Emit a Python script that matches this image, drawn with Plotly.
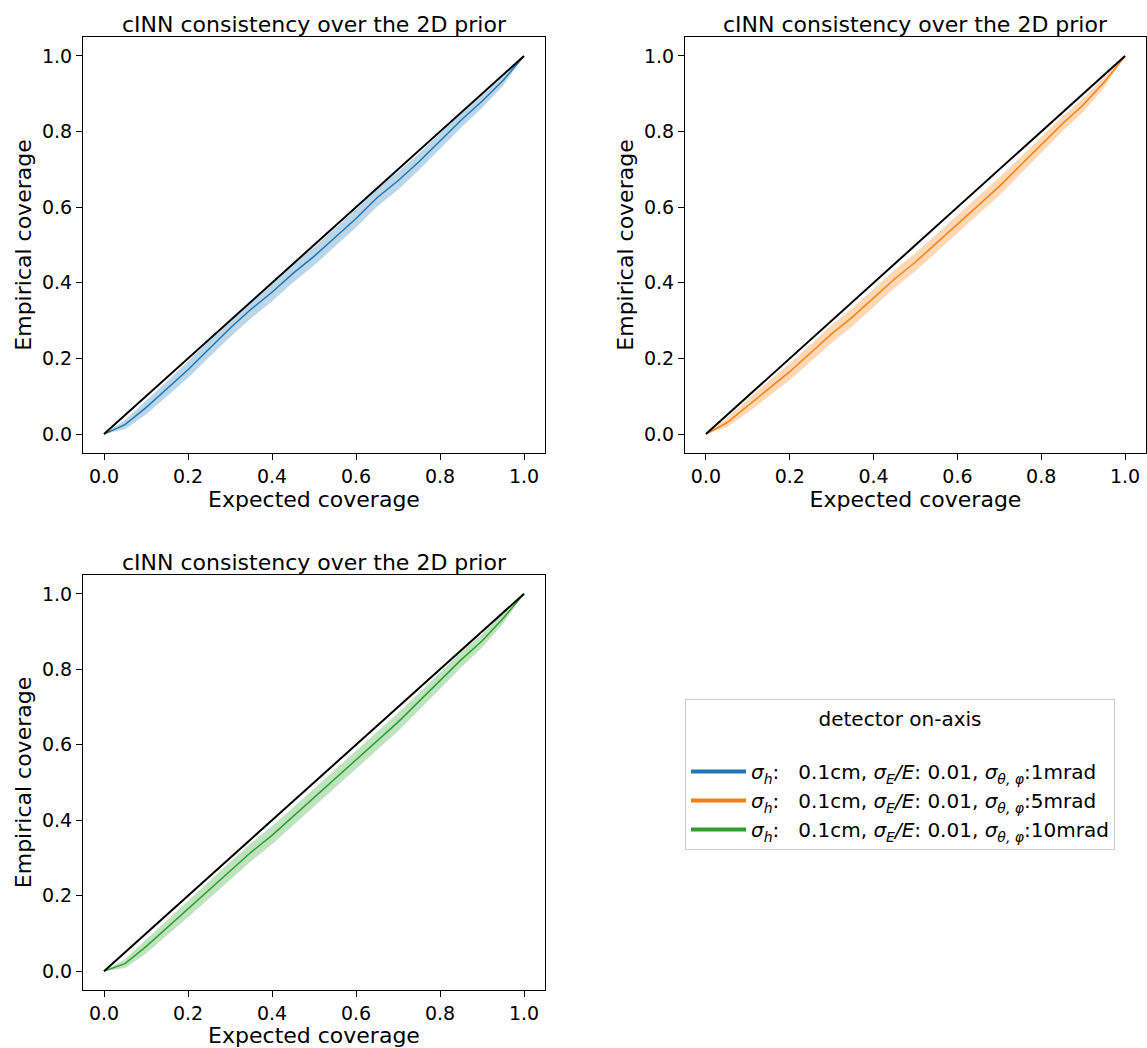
import plotly.graph_objects as go

# expected coverage grid
x = [0.0, 0.05, 0.1, 0.15, 0.2, 0.25, 0.3, 0.35, 0.4, 0.45, 0.5,
     0.55, 0.6, 0.65, 0.7, 0.75, 0.8, 0.85, 0.9, 0.95, 1.0]

# empirical coverage medians
blue = [0.0, 0.025, 0.07, 0.12, 0.17, 0.225, 0.28, 0.33, 0.375, 0.425, 0.47,
        0.52, 0.57, 0.625, 0.67, 0.72, 0.775, 0.83, 0.88, 0.935, 1.0]
orange = [0.0, 0.03, 0.075, 0.12, 0.165, 0.215, 0.265, 0.31, 0.36, 0.41, 0.455,
          0.505, 0.555, 0.605, 0.655, 0.71, 0.765, 0.82, 0.87, 0.93, 1.0]
green = [0.0, 0.02, 0.065, 0.115, 0.165, 0.215, 0.265, 0.315, 0.36, 0.41, 0.46,
         0.51, 0.56, 0.61, 0.66, 0.715, 0.77, 0.825, 0.875, 0.935, 1.0]
# band half-widths
half = [0.0, 0.012, 0.018, 0.02, 0.022, 0.022, 0.024, 0.024, 0.024, 0.024, 0.024,
        0.024, 0.024, 0.024, 0.024, 0.022, 0.022, 0.02, 0.018, 0.014, 0.0]

series = [
    (blue, '#1f77b4', 'rgba(31,119,180,0.3)', '1mrad', 'x', 'y'),
    (orange, '#ff7f0e', 'rgba(255,127,14,0.3)', '5mrad', 'x2', 'y2'),
    (green, '#2ca02c', 'rgba(44,160,44,0.3)', '10mrad', 'x3', 'y3'),
]

fig = go.Figure()
for vals, col, fill, lab, xa, ya in series:
    lo = [v - h for v, h in zip(vals, half)]
    hi = [v + h for v, h in zip(vals, half)]
    fig.add_trace(go.Scatter(x=x + x[::-1], y=hi + lo[::-1], fill='toself',
                             fillcolor=fill, line=dict(width=0), showlegend=False,
                             hoverinfo='skip', xaxis=xa, yaxis=ya))
    fig.add_trace(go.Scatter(x=x, y=vals, mode='lines', line=dict(color=col, width=1.5),
                             showlegend=False, xaxis=xa, yaxis=ya))
    fig.add_trace(go.Scatter(x=[0, 1], y=[0, 1], mode='lines', line=dict(color='black', width=2),
                             showlegend=False, xaxis=xa, yaxis=ya))
    # legend entry
    fig.add_trace(go.Scatter(x=[None], y=[None], mode='lines', line=dict(color=col, width=4),
                             name=('<i>σ<sub>h</sub></i>:   0.1cm, <i>σ<sub>E</sub>/E</i>: 0.01, '
                                   '<i>σ<sub>θ, φ</sub></i>:' + lab),
                             xaxis=xa, yaxis=ya))

W, H = 1147, 1048
dom_x = {1: [83 / W, 545 / W], 2: [685 / W, 1146 / W], 3: [83 / W, 545 / W]}
dom_y = {1: [1 - 453 / H, 1 - 37 / H], 2: [1 - 453 / H, 1 - 37 / H], 3: [1 - 990 / H, 1 - 575 / H]}
ticks = [0, 0.2, 0.4, 0.6, 0.8, 1.0]
axstyle = dict(range=[-0.05, 1.05], tickvals=ticks, ticktext=['%.1f' % t for t in ticks],
               showgrid=False, zeroline=False, showline=True, linecolor='black', linewidth=1,
               mirror=True, ticks='outside', ticklen=6, tickcolor='black',
               tickfont=dict(size=19, color='black'))
layout = {}
for i in (1, 2, 3):
    s = '' if i == 1 else str(i)
    layout['xaxis' + s] = dict(axstyle, domain=dom_x[i], anchor='y' + s,
                               title=dict(text='Expected coverage', font=dict(size=22), standoff=2))
    layout['yaxis' + s] = dict(axstyle, domain=dom_y[i], anchor='x' + s,
                               title=dict(text='Empirical coverage', font=dict(size=22), standoff=4))
fig.update_layout(**layout)

for i in (1, 2, 3):
    fig.add_annotation(text='cINN consistency over the 2D prior', xref='paper', yref='paper',
                       x=sum(dom_x[i]) / 2, xanchor='center', y=dom_y[i][1], yanchor='bottom',
                       showarrow=False, font=dict(size=22, color='black'), yshift=-2)

fig.update_layout(
    width=W, height=H, margin=dict(l=0, r=0, t=0, b=0),
    plot_bgcolor='white', paper_bgcolor='white',
    font=dict(family='DejaVu Sans', color='black'),
    legend=dict(x=685 / W, y=1 - 699 / H, xanchor='left', yanchor='top',
                bordercolor='#cccccc', borderwidth=1, font=dict(size=20),
                title=dict(text='detector on-axis<br> ', font=dict(size=20), side='top center'),
                itemwidth=55),
)

fig.write_html('out.html', config={'displayModeBar': False})
with open('out.html') as f:
    page = f.read()
page = page.replace('<head>', '<head><style>body{margin:0}</style>', 1)
with open('out.html', 'w') as f:
    f.write(page)
